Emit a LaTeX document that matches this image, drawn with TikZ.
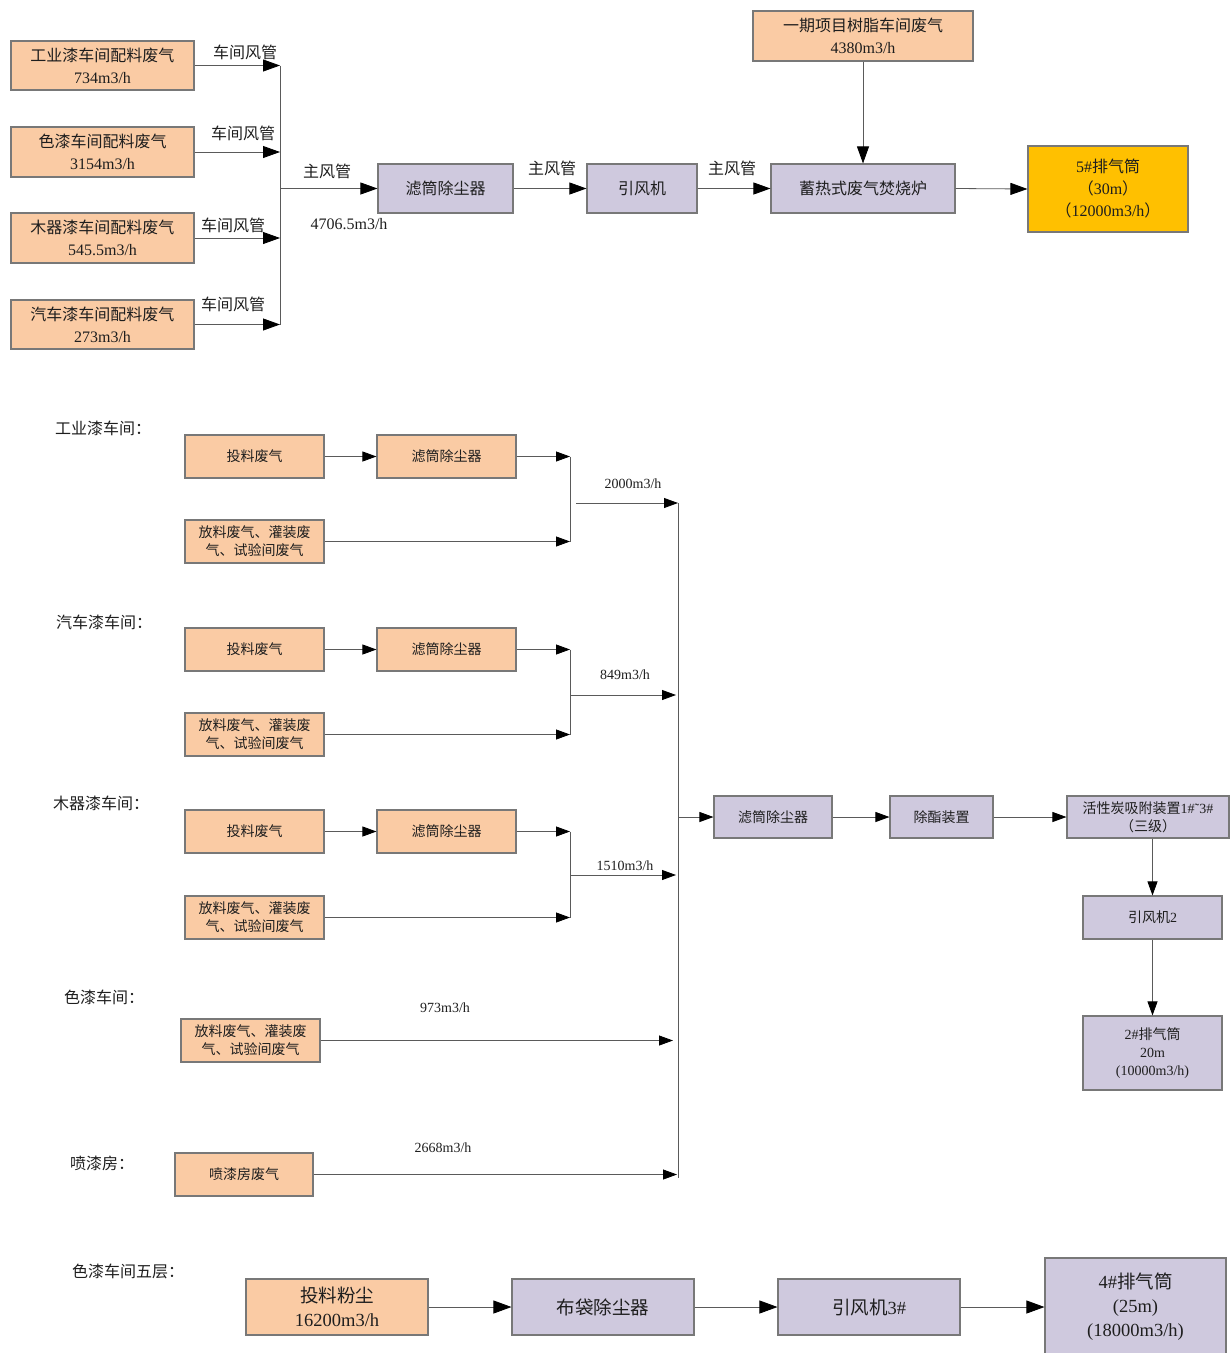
\documentclass[tikz,border=0pt]{standalone}
\usepackage{fontspec}
\setmainfont{Liberation Serif}
\newfontfamily\cjk{Noto Sans CJK SC}
\usetikzlibrary{arrows.meta}
\newcommand\zh[1]{{\cjk #1}}
\definecolor{peachc}{RGB}{250,203,164}
\definecolor{lilacc}{RGB}{207,201,222}
\definecolor{goldc}{RGB}{255,192,0}
\definecolor{edgec}{RGB}{120,120,120}
\definecolor{linec}{RGB}{90,90,90}
\definecolor{txtc}{RGB}{30,30,30}
\tikzset{
  base/.style={draw=edgec, line width=1.1pt, inner sep=0pt, align=center, text=txtc},
  peach/.style={base, fill=peachc},
  lilac/.style={base, fill=lilacc},
  gold/.style={base, fill=goldc},
  big/.style={font=\fontsize{16}{22}\selectfont},
  small/.style={font=\fontsize{14}{18}\selectfont},
  huge/.style={font=\fontsize{18.5}{24}\selectfont},
  conn/.style={draw=linec, line width=0.8pt},
  arr/.style={conn, -{Triangle[length=17pt,width=12pt,color=black]}},
  arrs/.style={conn, -{Triangle[length=14pt,width=10pt,color=black]}},
  arrb/.style={conn, -{Triangle[length=18pt,width=13pt,color=black]}},
  lbl/.style={inner sep=0pt, text=txtc},
}
\begin{document}
\begin{tikzpicture}[x=1pt,y=-1pt]
\useasboundingbox (0,0) rectangle (1230,1353);
% ---------------- top section ----------------
\node[peach,big,minimum width=183,minimum height=49] (b1) at (102.5,65.5) {\zh{工业漆车间配料废气}\\734m3/h};
\node[peach,big,minimum width=183,minimum height=50] (b2) at (102.5,152) {\zh{色漆车间配料废气}\\3154m3/h};
\node[peach,big,minimum width=183,minimum height=50] (b3) at (102.5,238) {\zh{木器漆车间配料废气}\\545.5m3/h};
\node[peach,big,minimum width=183,minimum height=49] (b4) at (102.5,324.5) {\zh{汽车漆车间配料废气}\\273m3/h};
\coordinate (j1) at (280,65.5);
\coordinate (j2) at (280,152);
\coordinate (j3) at (280,238);
\coordinate (j4) at (280,324.5);
\coordinate (jm) at (280,188.5);
\draw[arr] (b1.east) -- (j1);
\draw[arr] (b2.east) -- (j2);
\draw[arr] (b3.east) -- (j3);
\draw[arr] (b4.east) -- (j4);
\draw[conn] (j1) -- (j4);
\node[lbl,big] (l1) at (245,52) {\zh{车间风管}};
\node[lbl,big] (l2) at (243,133) {\zh{车间风管}};
\node[lbl,big] (l3) at (233,225) {\zh{车间风管}};
\node[lbl,big] (l4) at (233,304) {\zh{车间风管}};
\node[lilac,big,minimum width=135,minimum height=49] (f1) at (445.5,188.5) {\zh{滤筒除尘器}};
\node[lilac,big,minimum width=110,minimum height=49] (fan1) at (642,188.5) {\zh{引风机}};
\node[lilac,big,minimum width=184,minimum height=49] (rto) at (863,188.5) {\zh{蓄热式废气焚烧炉}};
\node[peach,big,minimum width=220,minimum height=50] (src) at (863,36) {\zh{一期项目树脂车间废气}\\4380m3/h};
\node[gold,big,minimum width=160,minimum height=86] (st5) at (1108,189) {5\#\zh{排气筒}\\\zh{（}30m\zh{）}\\\zh{（}12000m3/h\zh{）}};
\draw[arr] (jm) -- (f1.west);
\draw[arr] (f1.east) -- (fan1.west);
\draw[arr] (fan1.east) -- (rto.west);
\draw[arr] (src.south) -- (rto.north);
\draw[arr] (rto.east) -- (st5.west);
\node[lbl,big] (m1) at (327,171) {\zh{主风管}};
\node[lbl,big] (m2) at (349,224) {4706.5m3/h};
\node[lbl,big] (m3) at (552,168) {\zh{主风管}};
\node[lbl,big] (m4) at (732,168) {\zh{主风管}};
% ---------------- middle section ----------------
\node[lbl,big,anchor=west] (t1) at (55,428) {\zh{工业漆车间：}};
\node[lbl,big,anchor=west] (t2) at (56,622) {\zh{汽车漆车间：}};
\node[lbl,big,anchor=west] (t3) at (53,803) {\zh{木器漆车间：}};
\node[lbl,big,anchor=west] (t4) at (64,997) {\zh{色漆车间：}};
\node[lbl,big,anchor=west] (t5) at (70,1163) {\zh{喷漆房：}};
% group 1
\node[peach,small,minimum width=139,minimum height=43] (g1a) at (254.5,456.5) {\zh{投料废气}};
\node[peach,small,minimum width=139,minimum height=43] (g1b) at (446.5,456.5) {\zh{滤筒除尘器}};
\node[peach,small,minimum width=139,minimum height=43] (g1c) at (254.5,541.5) {\zh{放料废气、灌装废}\\\zh{气、试验间废气}};
\coordinate (g1t) at (570,456.5);
\coordinate (g1u) at (570,541.5);
\coordinate (g1o) at (576,503);
\coordinate (v1) at (678,503);
\coordinate (v2) at (678,1178);
\draw[arrs] (g1a.east) -- (g1b.west);
\draw[arrs] (g1b.east) -- (g1t);
\draw[arrs] (g1c.east) -- (g1u);
\draw[conn] (g1t) -- (g1u);
\draw[arrs] (g1o) -- (v1);
\node[lbl,small] (q1) at (633,484) {2000m3/h};
% group 2
\node[peach,small,minimum width=139,minimum height=43] (g2a) at (254.5,649.5) {\zh{投料废气}};
\node[peach,small,minimum width=139,minimum height=43] (g2b) at (446.5,649.5) {\zh{滤筒除尘器}};
\node[peach,small,minimum width=139,minimum height=43] (g2c) at (254.5,734.5) {\zh{放料废气、灌装废}\\\zh{气、试验间废气}};
\coordinate (g2t) at (570,649.5);
\coordinate (g2u) at (570,734.5);
\coordinate (g2o) at (570,695);
\coordinate (g2e) at (676,695);
\draw[arrs] (g2a.east) -- (g2b.west);
\draw[arrs] (g2b.east) -- (g2t);
\draw[arrs] (g2c.east) -- (g2u);
\draw[conn] (g2t) -- (g2u);
\draw[arrs] (g2o) -- (g2e);
\node[lbl,small] (q2) at (625,675) {849m3/h};
% group 3
\node[peach,small,minimum width=139,minimum height=43] (g3a) at (254.5,831.5) {\zh{投料废气}};
\node[peach,small,minimum width=139,minimum height=43] (g3b) at (446.5,831.5) {\zh{滤筒除尘器}};
\node[peach,small,minimum width=139,minimum height=43] (g3c) at (254.5,917.5) {\zh{放料废气、灌装废}\\\zh{气、试验间废气}};
\coordinate (g3t) at (570,831.5);
\coordinate (g3u) at (570,917.5);
\coordinate (g3o) at (570,875);
\coordinate (g3e) at (676,875);
\draw[arrs] (g3a.east) -- (g3b.west);
\draw[arrs] (g3b.east) -- (g3t);
\draw[arrs] (g3c.east) -- (g3u);
\draw[conn] (g3t) -- (g3u);
\draw[arrs] (g3o) -- (g3e);
\node[lbl,small] (q3) at (625,866) {1510m3/h};
% colour workshop
\node[peach,small,minimum width=139,minimum height=43] (c1) at (250.5,1040.5) {\zh{放料废气、灌装废}\\\zh{气、试验间废气}};
\coordinate (c1e) at (673,1040.5);
\draw[arrs] (c1.east) -- (c1e);
\node[lbl,small] (q4) at (445,1008) {973m3/h};
% spray room
\node[peach,small,minimum width=138,minimum height=43] (s1) at (244,1174.5) {\zh{喷漆房废气}};
\coordinate (s1e) at (677,1174.5);
\draw[arrs] (s1.east) -- (s1e);
\node[lbl,small] (q5) at (443,1148) {2668m3/h};
% main collector
\draw[conn] (v1) -- (v2);
\coordinate (v3) at (678,817);
\node[lilac,small,minimum width=118,minimum height=42] (f2) at (773,817) {\zh{滤筒除尘器}};
\node[lilac,small,minimum width=103,minimum height=42] (dez) at (941.5,817) {\zh{除酯装置}};
\node[lilac,small,minimum width=162,minimum height=42] (ac) at (1148,817) {\zh{活性炭吸附装置}1\#˜3\#\\\zh{（三级）}};
\node[lilac,small,minimum width=139,minimum height=43] (fan2) at (1152.5,917.5) {\zh{引风机}2};
\node[lilac,small,minimum width=139,minimum height=74] (st2) at (1152.5,1053) {2\#\zh{排气筒}\\20m\\(10000m3/h)};
\draw[arrs] (v3) -- (f2.west);
\draw[arrs] (f2.east) -- (dez.west);
\draw[arrs] (dez.east) -- (ac.west);
\draw[arrs] (fan2.north |- ac.south) -- (fan2.north);
\draw[arrs] (fan2.south) -- (st2.north);
% ---------------- bottom section ----------------
\node[lbl,big,anchor=west] (t6) at (72,1271) {\zh{色漆车间五层：}};
\node[peach,huge,minimum width=182,minimum height=56] (p1) at (337,1307) {\zh{投料粉尘}\\16200m3/h};
\node[lilac,huge,minimum width=182,minimum height=56] (bd) at (603,1307) {\zh{布袋除尘器}};
\node[lilac,huge,minimum width=182,minimum height=56] (fan3) at (869,1307) {\zh{引风机}3\#};
\node[lilac,huge,minimum width=181,minimum height=98] (st4) at (1135.5,1307) {4\#\zh{排气筒}\\(25m)\\(18000m3/h)};
\draw[arrb] (p1.east) -- (bd.west);
\draw[arrb] (bd.east) -- (fan3.west);
\draw[arrb] (fan3.east) -- (st4.west);
\end{tikzpicture}
\end{document}
